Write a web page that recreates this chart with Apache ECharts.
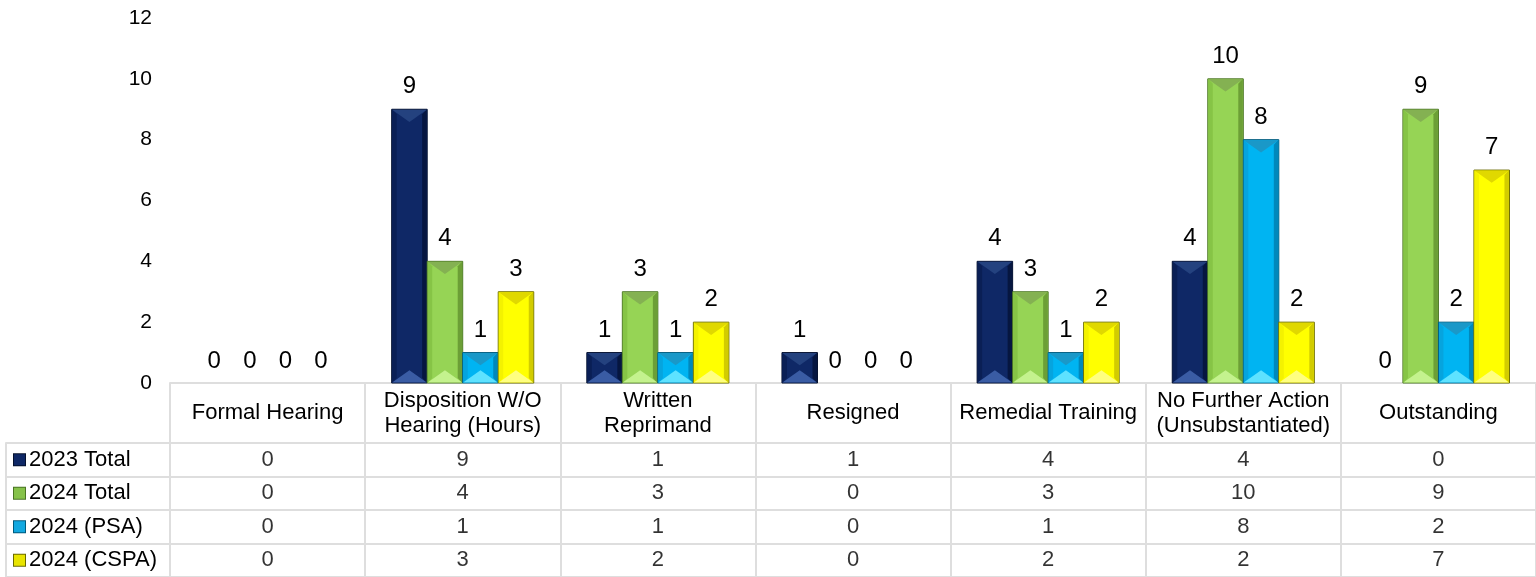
<!DOCTYPE html>
<html>
<head>
<meta charset="utf-8">
<script src="https://cdn.jsdelivr.net/npm/echarts@6/dist/echarts.min.js"></script>
<style>
  html, body { margin: 0; padding: 0; background: #fff; }
  #chart { width: 1536px; height: 577px; }
</style>
</head>
<body>
<div id="chart"></div>
<script>
const categories = [
  'Formal Hearing',
  'Disposition W/O\nHearing (Hours)',
  'Written\nReprimand',
  'Resigned',
  'Remedial Training',
  'No Further Action\n(Unsubstantiated)',
  'Outstanding'
];
const seriesNames = ['2023 Total', '2024 Total', '2024 (PSA)', '2024 (CSPA)'];
const total2023 = [0, 9, 1, 1, 4, 4, 0];
const total2024 = [0, 4, 3, 0, 3, 10, 9];
const psa2024 = [0, 1, 1, 0, 1, 8, 2];
const cspa2024 = [0, 3, 2, 0, 2, 2, 7];
const yMin = 0, yMax = 12, yStep = 2;

const allSeries = [total2023, total2024, psa2024, cspa2024];

// bevel shades per series
const shades = [
  { main: '#0f2866', left: '#0a1f55', right: '#061640', top: '#24427f', bottom: '#3a5ca4', edge: '#04102e', icon: '#0f2866' },
  { main: '#96d455', left: '#86c446', right: '#6c9f36', top: '#84b152', bottom: '#c4f28e', edge: '#4a7424', icon: '#86c24a' },
  { main: '#00b4f2', left: '#06a4de', right: '#0088bc', top: '#1a98c8', bottom: '#5ee2ff', edge: '#005a7c', icon: '#12a8e0' },
  { main: '#ffff00', left: '#f4f200', right: '#d2cc00', top: '#e0d800', bottom: '#ffff80', edge: '#6a6a00', icon: '#e8e400' }
];
const gridColor = '#dedede';
const font = 'Liberation Sans, Arial, sans-serif';
const gapRatio = 0.272;

function makeRender(k) {
  return function (params, api) {
    const cat = api.value(0);
    const val = api.value(1);
    const band = api.size([1, 0])[0];
    const w = band * (1 - gapRatio) / 4;
    const base = api.coord([cat, 0]);
    const top = api.coord([cat, val]);
    const x0 = base[0] - 2 * w + k * w;
    const yt = top[1], yb = base[1];
    const h = yb - yt;
    const c = shades[k];
    const label = {
      type: 'rect',
      shape: { x: x0, y: yt, width: w, height: h },
      style: { fill: h > 0 ? c.main : 'none', stroke: h > 0 ? c.edge : 'none', lineWidth: 1 },
      textContent: { style: { text: String(val), fontSize: 24, fontFamily: font, fill: '#000' } },
      textConfig: { position: 'top', distance: 10 }
    };
    if (h <= 0) return { type: 'group', children: [label] };
    const b = Math.min(5, h / 2);
    const d = Math.min(w * 0.36, h / 2);
    const xc = x0 + w / 2;
    return {
      type: 'group',
      children: [
        label,
        { type: 'polygon', shape: { points: [[x0 + 0.5, yt], [x0 + b, yt + b], [x0 + b, yb - b], [x0 + 0.5, yb]] }, style: { fill: c.left } },
        { type: 'polygon', shape: { points: [[x0 + w - 0.5, yt], [x0 + w - b, yt + b], [x0 + w - b, yb - b], [x0 + w - 0.5, yb]] }, style: { fill: c.right } },
        { type: 'polygon', shape: { points: [[x0 + 0.5, yt + 0.5], [x0 + w - 0.5, yt + 0.5], [xc, yt + d]] }, style: { fill: c.top } },
        { type: 'polygon', shape: { points: [[x0 + 0.5, yb - 0.5], [x0 + w - 0.5, yb - 0.5], [xc, yb - d]] }, style: { fill: c.bottom } }
      ]
    };
  };
}

const barSeries = allSeries.map((arr, k) => ({
  name: seriesNames[k],
  type: 'custom',
  xAxisIndex: 0,
  yAxisIndex: 0,
  encode: { x: 0, y: 1 },
  data: arr.map((v, i) => [i, v]),
  renderItem: makeRender(k),
  silent: true
}));

const cellData = [];
allSeries.forEach((arr, r) => arr.forEach((v, i) => cellData.push([i, r, v])));

const rich = { name: { fontSize: 22, fontFamily: font, color: '#000', padding: [0, 0, 0, 4] } };
shades.forEach((c, k) => {
  rich['i' + k] = { width: 11, height: 11, backgroundColor: c.icon, borderColor: c.edge, borderWidth: 1 };
});

const chart = echarts.init(document.getElementById('chart'));
chart.setOption({
  animation: false,
  textStyle: { fontFamily: font },
  grid: [
    { left: 170, right: 0, top: 18, bottom: 194 },
    { left: 170, right: 0, top: 443, height: 138 }
  ],
  xAxis: [
    {
      type: 'category', gridIndex: 0, data: categories,
      axisLine: { lineStyle: { color: gridColor, width: 2 } },
      axisTick: { show: true, length: 60, interval: 0, lineStyle: { color: gridColor, width: 2 } },
      axisLabel: { interval: 0, fontSize: 22, lineHeight: 25, color: '#000', margin: 30, verticalAlign: 'middle' },
      splitLine: { show: false }
    },
    {
      type: 'category', gridIndex: 1, data: categories, position: 'top',
      axisLine: { lineStyle: { color: gridColor, width: 2 } },
      axisTick: { show: false },
      axisLabel: { show: false },
      splitLine: { show: true, interval: 0, lineStyle: { color: gridColor, width: 2 } }
    }
  ],
  yAxis: [
    {
      type: 'value', gridIndex: 0, min: yMin, max: yMax, interval: yStep,
      axisLine: { show: false }, axisTick: { show: false },
      splitLine: { show: false },
      axisLabel: { fontSize: 21, color: '#000', margin: 18 }
    },
    {
      type: 'category', gridIndex: 1, data: seriesNames, inverse: true,
      axisLine: { show: true, lineStyle: { color: gridColor, width: 2 } },
      axisTick: { show: true, length: 164, interval: 0, lineStyle: { color: gridColor, width: 2 } },
      splitLine: { show: true, interval: 0, lineStyle: { color: gridColor, width: 2 } },
      axisLabel: {
        interval: 0, align: 'left', margin: 156,
        formatter: (v, i) => '{i' + i + '|}{name|' + v + '}',
        rich: rich
      }
    },
    {
      type: 'category', gridIndex: 1, data: seriesNames, inverse: true, position: 'left', offset: 164,
      axisLine: { show: true, lineStyle: { color: gridColor, width: 2 } },
      axisTick: { show: false }, axisLabel: { show: false }, splitLine: { show: false }
    }
  ],
  series: barSeries.concat([{
    type: 'scatter',
    xAxisIndex: 1,
    yAxisIndex: 1,
    data: cellData,
    symbolSize: 0,
    silent: true,
    label: {
      show: true, position: 'inside', fontSize: 22, color: '#000',
      formatter: (p) => String(p.value[2])
    }
  }])
});
</script>
</body>
</html>
